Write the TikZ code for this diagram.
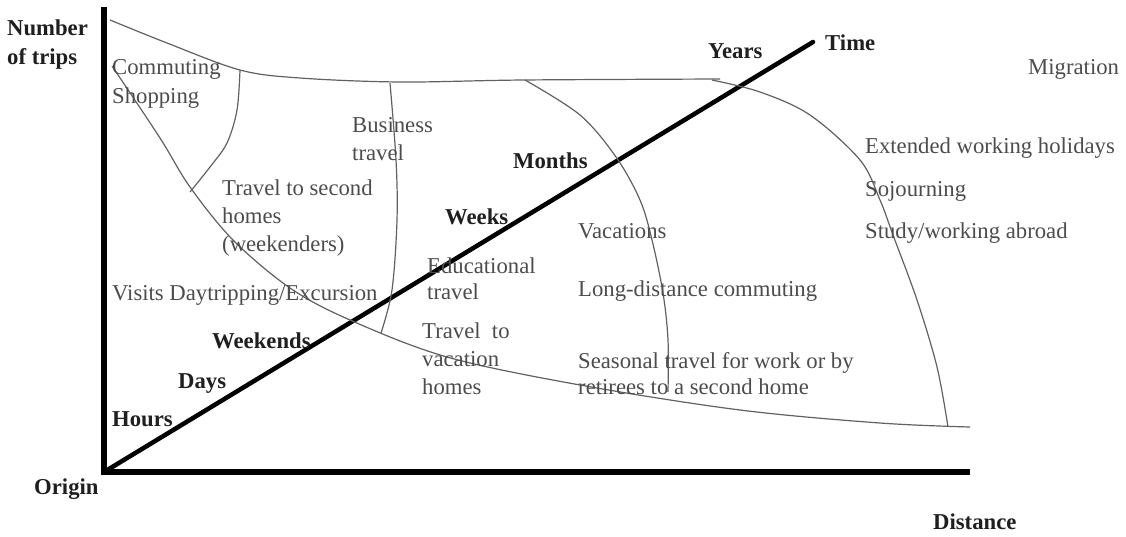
\documentclass[tikz,border=0pt]{standalone}
\usepackage{fontspec}
\setmainfont{Liberation Serif}
\definecolor{txtgray}{gray}{0.30}
\definecolor{boldtxt}{gray}{0.12}
\definecolor{curvegray}{gray}{0.38}
\tikzset{
  lbl/.style={anchor=base west, inner sep=0pt, text=txtgray, align=left,
    font=\fontsize{22.7}{28}\selectfont},
  blbl/.style={anchor=base west, inner sep=0pt, text=boldtxt, align=left,
    font=\fontsize{22.7}{29}\selectfont\bfseries},
  curve/.style={draw=curvegray, line width=1.2pt, smooth, tension=0.55},
  axis/.style={draw=black, line width=5.5pt},
  timeaxis/.style={draw=black, line width=4.5pt, line cap=round},
}
\begin{document}
\begin{tikzpicture}[x=1pt, y=-1pt]
\useasboundingbox (0,0) rectangle (1126,536);
% axes
\coordinate (O) at (104,472);
\coordinate (Ytop) at (104,7);
\coordinate (Xend) at (970,472);
\coordinate (Tend) at (813,42);
\draw[axis] (Ytop) -- (O) -- (Xend);
\draw[timeaxis] (O) -- (Tend);
% curves
\draw[curve] plot coordinates {(110,20) (167,43) (240,70) (300,78) (400,82) (523,80) (720,79)};
\draw[curve] plot coordinates {(112,66) (160,138) (190,187) (233,240) (290,288) (350,320) (447,357) (580,385) (740,410) (880,423) (970,427)};
\draw[curve] plot coordinates {(240,70) (237,110) (227,143) (210,167) (190,192)};
\draw[curve] plot coordinates {(390,83) (396,160) (397,220) (392,290) (381,333)};
\draw[curve] plot coordinates {(525,80) (580,115) (616,157) (640,200) (652,240) (663,293) (668,340) (668,392)};
\draw[curve] plot coordinates {(712,80) (760,92) (810,115) (860,160) (880,200) (893,235) (917,300) (937,367) (948,427)};
% bold labels
\node[blbl] (ntrips) at (7,64) {Number\\of trips};
\node[blbl] (origin) at (34,494) {Origin};
\node[blbl] (distance) at (933,529) {Distance};
\node[blbl] (time) at (825,50) {Time};
\node[blbl] (years) at (708,58) {Years};
\node[blbl] (months) at (513,168) {Months};
\node[blbl] (weeks) at (445,224) {Weeks};
\node[blbl] (weekends) at (212,348) {Weekends};
\node[blbl] (days) at (178,388) {Days};
\node[blbl] (hours) at (112,426) {Hours};
% regular labels
\node[lbl, font=\fontsize{22.7}{29}\selectfont] (commute) at (112,103) {Commuting\\Shopping};
\node[lbl] (business) at (352,160) {Business\\travel};
\node[lbl] (second) at (222,251) {Travel to second\\homes\\(weekenders)};
\node[lbl] (visits) at (112,300) {Visits Daytripping/Excursion};
\node[lbl, font=\fontsize{22.7}{26}\selectfont] (edu) at (427,299) {Educational\\travel};
\node[lbl] (vachomes) at (422,394) {Travel~~to\\vacation\\homes};
\node[lbl] (vacations) at (578,238) {Vacations};
\node[lbl] (longdist) at (578,296) {Long-distance commuting};
\node[lbl, font=\fontsize{22.7}{26}\selectfont] (seasonal) at (578,394) {Seasonal travel for work or by\\retirees to a second home};
\node[lbl] (migration) at (1028,74) {Migration};
\node[lbl] (extended) at (865,153) {Extended working holidays};
\node[lbl] (sojourn) at (865,196) {Sojourning};
\node[lbl] (study) at (865,238) {Study/working abroad};
\end{tikzpicture}
\end{document}
